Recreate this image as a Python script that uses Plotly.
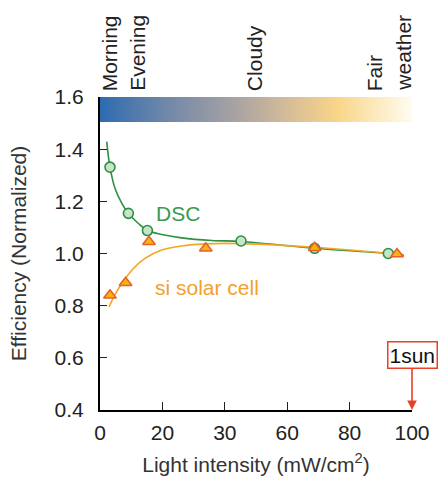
import plotly.graph_objects as go

# ---- data ----
dsc_x = [3.2, 9.1, 15.2, 45.2, 68.8, 92.4]
dsc_y = [1.331, 1.154, 1.088, 1.048, 1.020, 1.000]

si_x = [3.2, 8.2, 15.7, 33.9, 68.8, 95.2]
si_y = [0.840, 0.888, 1.045, 1.020, 1.022, 0.998]

dsc_fit_x = [2.15, 3.2, 4.8, 7.0, 9.1, 12.3, 15.2, 19.8, 26.2, 35.8, 45.2, 68.8, 92.4, 97.4]
dsc_fit_y = [1.429, 1.331, 1.25, 1.192, 1.154, 1.115, 1.088, 1.073, 1.06, 1.05, 1.046, 1.020, 1.000, 0.993]

si_fit_x = [2.9, 4.8, 7.0, 10.2, 14.4, 19.8, 26.2, 33.7, 45.2, 68.8, 96.8]
si_fit_y = [0.795, 0.842, 0.885, 0.936, 0.981, 1.013, 1.029, 1.037, 1.038, 1.024, 0.996]

x_tickvals = [0, 20, 40, 60, 80, 100]
x_ticktext = ["0", "20", "30", "60", "80", "100"]
y_tickvals = [0.4, 0.6, 0.8, 1.0, 1.2, 1.4, 1.6]

band_x = [0, 100]
band_y = [1.504, 1.6]

top_labels = ["Morning", "Evening", "Cloudy", "Fair", "weather"]
top_label_x = [3.0, 11.8, 49.4, 87.9, 97.0]

FONT = "Liberation Sans"
GREEN = "#2f8f42"
ORANGE = "#f5a623"

fig = go.Figure()

# gradient band
fig.add_trace(go.Scatter(
    x=[band_x[0], band_x[1], band_x[1], band_x[0], band_x[0]],
    y=[band_y[0], band_y[0], band_y[1], band_y[1], band_y[0]],
    mode="lines", line=dict(width=0), fill="toself",
    fillgradient=dict(type="horizontal", colorscale=[
        [0.0, "#2c6cb0"], [0.2, "#6d86aa"], [0.45, "#aca5a1"],
        [0.6, "#d4bc98"], [0.76, "#f9d588"], [1.0, "#fffcf0"]]),
    hoverinfo="skip", showlegend=False))

fig.add_trace(go.Scatter(x=dsc_fit_x, y=dsc_fit_y, mode="lines",
                         line=dict(color=GREEN, width=1.6, shape="spline", smoothing=1.0),
                         showlegend=False))
fig.add_trace(go.Scatter(x=si_fit_x, y=si_fit_y, mode="lines",
                         line=dict(color=ORANGE, width=1.6, shape="spline", smoothing=1.0),
                         showlegend=False))
fig.add_trace(go.Scatter(x=dsc_x, y=dsc_y, mode="markers",
                         marker=dict(symbol="circle", size=10, color="#c6e4c8",
                                     line=dict(color=GREEN, width=1.6)),
                         showlegend=False))
fig.add_trace(go.Scatter(x=si_x, y=si_y, mode="markers",
                         marker=dict(symbol="triangle-up", size=11, color="#f7b410",
                                     line=dict(color="#e8602c", width=1.6)),
                         showlegend=False))

annotations = []
for t, xv in zip(top_labels, top_label_x):
    annotations.append(dict(x=xv, y=1, xref="x", yref="paper", text=t,
                            textangle=-90, showarrow=False, xanchor="center",
                            yanchor="bottom", yshift=4,
                            font=dict(family=FONT, size=21, color="#222")))

annotations.append(dict(x=17.3, y=1.154, xref="x", yref="y", text="DSC",
                        showarrow=False, xanchor="left", yanchor="middle",
                        font=dict(family=FONT, size=21, color="#3a9a4c")))
annotations.append(dict(x=17.1, y=0.868, xref="x", yref="y", text="si solar cell",
                        showarrow=False, xanchor="left", yanchor="middle",
                        font=dict(family=FONT, size=21, color="#f5a02a")))
annotations.append(dict(x=100, y=0.4, xref="x", yref="y", text="1sun",
                        showarrow=True, arrowhead=2, arrowsize=1.2, arrowwidth=1.6,
                        arrowcolor="#e8402a", ax=0, ay=-55,
                        bordercolor="#e8402a", borderwidth=1.5, borderpad=1,
                        bgcolor="white",
                        font=dict(family=FONT, size=21, color="#111")))

fig.update_layout(
    width=438, height=483,
    margin=dict(l=100, r=26, t=97, b=73),
    plot_bgcolor="white", paper_bgcolor="white",
    font=dict(family=FONT, size=21, color="#222"),
    annotations=annotations,
    xaxis=dict(range=[0, 100], tickvals=x_tickvals, ticktext=x_ticktext,
               automargin=False,
               showgrid=False, zeroline=False, showline=True, linecolor="black",
               linewidth=2, ticks="inside", ticklen=8, tickcolor="#222", tickwidth=1,
               ticklabelstandoff=3,
               tickfont=dict(family=FONT, size=21, color="#222"),
               title=dict(text="Light intensity (mW/cm<sup>2</sup>)", standoff=14,
                          font=dict(family=FONT, size=21, color="#333"))),
    yaxis=dict(range=[0.4, 1.6], tickvals=y_tickvals, tickformat=".1f",
               automargin=False,
               showgrid=False, zeroline=False, showline=True, linecolor="black",
               linewidth=2, ticks="inside", ticklen=7, tickcolor="#222", tickwidth=1,
               ticklabelstandoff=10,
               tickfont=dict(family=FONT, size=21, color="#222"),
               title=dict(text="Efficiency (Normalized)", standoff=22,
                          font=dict(family=FONT, size=21, color="#333"))),
)

# remove the default page margin so the 438x483 figure fills the window exactly
fig.write_html("out.html",
               config={"displayModeBar": False},
               post_script="document.body.style.margin='0';document.body.style.overflow='hidden';")
